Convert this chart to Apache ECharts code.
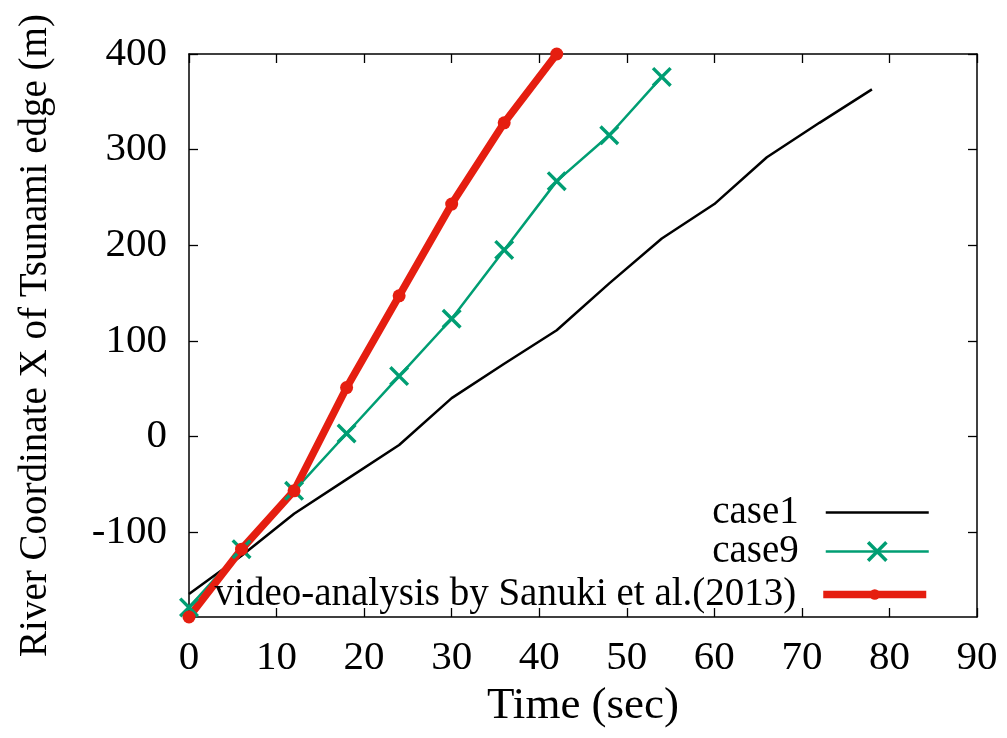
<!DOCTYPE html>
<html>
<head>
<meta charset="utf-8">
<script src="https://cdn.jsdelivr.net/npm/echarts@6/dist/echarts.min.js"></script>
<style>
html,body{margin:0;padding:0;background:#fff;}
#c{width:1007px;height:738px;}
</style>
</head>
<body>
<div id="c"></div>
<script>
// ---- data ----
const case1Time = [0, 6, 12, 18, 24, 30, 36, 42, 48, 54, 60, 66, 72, 78];
const case1X = [-165, -125, -81, -45, -9, 40, 76, 111, 160, 207, 243, 292, 328, 363];
const case9Time = [0, 6, 12, 18, 24, 30, 36, 42, 48, 54];
const case9X = [-179, -118, -57, 3, 63, 123, 195, 267, 315, 376];
const videoTime = [0, 6, 12, 18, 24, 30, 36, 42];
const videoX = [-189, -118, -57, 51, 147, 243, 328, 400];
const yTicks = [-100, 0, 100, 200, 300, 400];
const seriesNames = ['case1', 'case9', 'video-analysis by Sanuki et al.(2013)'];
const xTitle = 'Time (sec)';
const yTitle = 'River Coordinate X of Tsunami edge (m)';

const pairs = (xs, ys) => xs.map((x, i) => [x, ys[i]]);
const FONT = 'Liberation Serif';
const crossPath = 'path://M0,1.2L1.2,0L10,8.8L8.8,10Z M8.8,0L10,1.2L1.2,10L0,8.8Z';

const chart = echarts.init(document.getElementById('c'), null, {renderer: 'canvas'});

const legendBase = {
  orient: 'vertical', align: 'right', right: 72, itemWidth: 103, itemHeight: 20,
  textStyle: {fontFamily: FONT, fontSize: 39, color: '#000', padding: [0, 22, 0, 0]},
  selectedMode: false
};

const option = {
  animation: false,
  backgroundColor: '#fff',
  textStyle: {fontFamily: FONT},
  grid: {left: 189, right: 30, top: 54, bottom: 121, containLabel: false},
  legend: [
    Object.assign({}, legendBase, {
      data: [{name: seriesNames[0], itemStyle: {opacity: 0}, lineStyle: {color: '#000', width: 2.5}}],
      top: 488}),
    Object.assign({}, legendBase, {
      itemHeight: 26,
      data: [{name: seriesNames[1], lineStyle: {color: '#009e73', width: 2.5}}],
      top: 527}),
    Object.assign({}, legendBase, {
      itemHeight: 13,
      data: [{name: seriesNames[2], lineStyle: {color: '#e51e10', width: 7.5}}],
      top: 570})
  ],
  xAxis: [{
    type: 'value', min: 0, max: 90, interval: 10, position: 'bottom',
    name: xTitle, nameLocation: 'middle', nameGap: 52,
    nameTextStyle: {fontFamily: FONT, fontSize: 45, color: '#000'},
    axisLine: {show: true, onZero: false, lineStyle: {color: '#000', width: 1.5}},
    axisTick: {show: true, inside: true, length: 9, lineStyle: {color: '#000', width: 1.3}},
    axisLabel: {fontFamily: FONT, fontSize: 41, color: '#000', margin: 21},
    splitLine: {show: false}
  }, {
    type: 'value', min: 0, max: 90, interval: 10, position: 'top',
    axisLine: {show: true, onZero: false, lineStyle: {color: '#000', width: 1.5}},
    axisTick: {show: true, inside: true, length: 9, lineStyle: {color: '#000', width: 1.3}},
    axisLabel: {show: false}, splitLine: {show: false}
  }],
  yAxis: [{
    type: 'value', min: -189, max: 400, position: 'left',
    name: yTitle, nameLocation: 'middle', nameGap: 134, nameRotate: 90,
    nameTextStyle: {fontFamily: FONT, fontSize: 39, color: '#000'},
    axisLine: {show: true, onZero: false, lineStyle: {color: '#000', width: 1.5}},
    axisTick: {show: true, inside: true, length: 9, customValues: yTicks, lineStyle: {color: '#000', width: 1.3}},
    axisLabel: {fontFamily: FONT, fontSize: 41, color: '#000', margin: 22, customValues: yTicks},
    splitLine: {show: false}
  }, {
    type: 'value', min: -189, max: 400, position: 'right',
    axisLine: {show: true, onZero: false, lineStyle: {color: '#000', width: 1.5}},
    axisTick: {show: true, inside: true, length: 9, customValues: yTicks, lineStyle: {color: '#000', width: 1.3}},
    axisLabel: {show: false, customValues: yTicks}, splitLine: {show: false}
  }],
  series: [{
    name: seriesNames[0], type: 'line', data: pairs(case1Time, case1X),
    showSymbol: false, symbol: 'none', clip: false,
    lineStyle: {color: '#000', width: 2.5}, itemStyle: {color: '#000'}
  }, {
    name: seriesNames[1], type: 'line', data: pairs(case9Time, case9X),
    symbol: crossPath, symbolSize: 20, clip: false,
    lineStyle: {color: '#009e73', width: 2.5}, itemStyle: {color: '#009e73'}
  }, {
    name: seriesNames[2], type: 'line', data: pairs(videoTime, videoX),
    symbol: 'circle', symbolSize: 13, clip: false,
    lineStyle: {color: '#e51e10', width: 7.5}, itemStyle: {color: '#e51e10'}
  }]
};
chart.setOption(option);
</script>
</body>
</html>
